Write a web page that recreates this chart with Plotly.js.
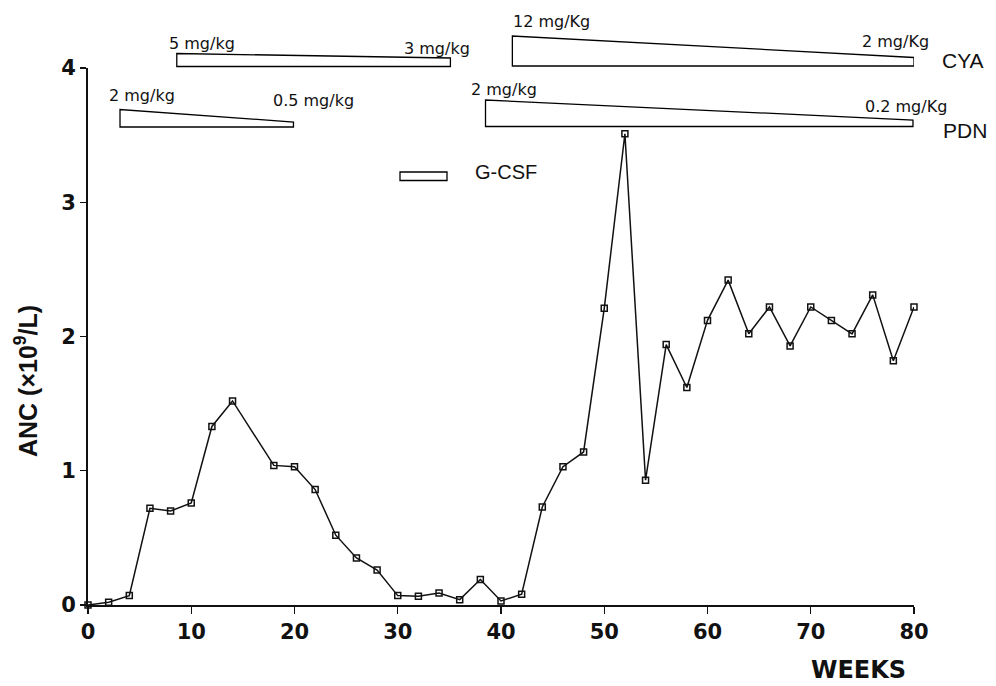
<!DOCTYPE html>
<html>
<head>
<meta charset="utf-8">
<script src="https://cdn.plot.ly/plotly-3.0.1.min.js"></script>
<style>html,body{margin:0;padding:0;background:#fff;}#chart{width:996px;height:686px;}</style>
</head>
<body>
<div id="chart"></div>
<script>
// ---- data ----
const weeks = [0, 2, 4, 6, 8, 10, 12, 14, 18, 20, 22, 24, 26, 28, 30, 32, 34, 36, 38, 40,
               42, 44, 46, 48, 50, 52, 54, 56, 58, 60, 62, 64, 66, 68, 70, 72, 74, 76, 78, 80];
const anc = [0, 0.02, 0.07, 0.72, 0.70, 0.76, 1.33, 1.52, 1.04, 1.03, 0.86, 0.52, 0.35, 0.26, 0.07, 0.065,
             0.09, 0.04, 0.19, 0.03, 0.08, 0.73, 1.03, 1.14, 2.21, 3.51, 0.93, 1.94, 1.62, 2.12, 2.42,
             2.02, 2.22, 1.93, 2.22, 2.12, 2.02, 2.31, 1.82, 2.22];
const xTicks = [0, 10, 20, 30, 40, 50, 60, 70, 80];
const yTicks = [0, 1, 2, 3, 4];

// drug regimens (start week, end week, start dose label, end dose label)
const cyaStart = [8.6, 41.1];
const cyaEnd = [35.1, 80];
const cyaStartLabel = ['5 mg/kg', '12 mg/Kg'];
const cyaEndLabel = ['3 mg/kg', '2 mg/Kg'];
const pdnStart = [3.1, 38.5];
const pdnEnd = [19.9, 79.9];
const pdnStartLabel = ['2 mg/kg', '2 mg/kg'];
const pdnEndLabel = ['0.5 mg/kg', '0.2 mg/Kg'];

// ---- layout helpers (pixel -> paper) ----
const L = 88, R = 82, T = 68, B = 81, W = 996, H = 686;
const pw = W - L - R, ph = H - T - B;
const py = p => (H - B - p) / ph;
const px = p => (p - L) / pw;

function wedge(x0, x1, yTopL, yTopR, yBot) {
  return {
    type: 'path', xref: 'x', yref: 'paper',
    path: `M ${x0} ${py(yBot)} L ${x0} ${py(yTopL)} L ${x1} ${py(yTopR)} L ${x1} ${py(yBot)} Z`,
    line: {color: '#000', width: 1.3}, fillcolor: 'rgba(255,255,255,0)'
  };
}

const shapes = [
  wedge(cyaStart[0], cyaEnd[0], 53.5, 58, 66.5),
  wedge(cyaStart[1], cyaEnd[1], 36, 57.5, 66),
  wedge(pdnStart[0], pdnEnd[0], 109.5, 122, 127),
  wedge(pdnStart[1], pdnEnd[1], 100, 120, 126.5),
  {type: 'rect', xref: 'paper', yref: 'paper', x0: px(400), x1: px(447), y0: py(180.5), y1: py(172),
   line: {color: '#000', width: 1.3}, fillcolor: 'rgba(255,255,255,0)'}
];

const labFont = {family: 'DejaVu Sans, Verdana, sans-serif', size: 16, color: '#111'};
const bigFont = {family: 'Liberation Sans, Arial, sans-serif', size: 21, color: '#111'};
function txt(text, x, y, font, anchor) {
  return {text: text, xref: 'paper', yref: 'paper', x: px(x), y: py(y), showarrow: false,
          xanchor: anchor || 'left', yanchor: 'middle', font: font, borderpad: 0};
}

const annotations = [
  txt(cyaStartLabel[0], 168, 43, labFont),
  txt(cyaEndLabel[0], 403, 48, labFont),
  txt(cyaStartLabel[1], 512, 22, labFont),
  txt(cyaEndLabel[1], 861, 42, labFont),
  txt(pdnStartLabel[0], 108, 95, labFont),
  txt(pdnEndLabel[0], 272, 100, labFont),
  txt(pdnStartLabel[1], 470, 89, labFont),
  txt(pdnEndLabel[1], 864, 106, labFont),
  txt('CYA', 941, 61, bigFont),
  txt('PDN', 942, 130, bigFont),
  txt('G-CSF', 474, 172, {family: 'Liberation Sans, Arial, sans-serif', size: 20, color: '#111'}),
  {text: 'ANC (×10<sup>9</sup>/L)', xref: 'paper', yref: 'paper', x: px(26), y: py(381), textangle: -90,
   showarrow: false, xanchor: 'center', yanchor: 'middle', borderpad: 0,
   font: {family: 'Liberation Sans, Arial, sans-serif', size: 25, weight: 'bold', color: '#111'}},
  {text: 'WEEKS', xref: 'paper', yref: 'paper', x: px(858), y: py(685), showarrow: false,
   xanchor: 'center', yanchor: 'bottom', borderpad: 0,
   font: {family: 'DejaVu Sans, Verdana, sans-serif', size: 24, weight: 'bold', color: '#111'}}
];

const trace = {
  x: weeks, y: anc, type: 'scatter', mode: 'lines+markers', cliponaxis: false,
  line: {color: '#111', width: 1.5},
  marker: {symbol: 'square-open', size: 6, color: '#111', line: {width: 1.5, color: '#111'}},
  showlegend: false, hoverinfo: 'x+y'
};

const tickFont = {family: 'DejaVu Sans, Verdana, sans-serif', size: 21, weight: 'bold', color: '#111'};
const layout = {
  width: W, height: H,
  margin: {l: L, r: R, t: T, b: B, pad: 0},
  paper_bgcolor: '#fff', plot_bgcolor: '#fff',
  showlegend: false,
  xaxis: {range: [0, 80], tickvals: xTicks, ticktext: xTicks.map(String), showgrid: false, zeroline: false,
          showline: true, linecolor: '#111', linewidth: 1.8, ticks: 'outside', ticklen: 7, tickwidth: 1.3,
          tickcolor: '#111', tickfont: tickFont, fixedrange: true},
  yaxis: {range: [0, 4], tickvals: yTicks, ticktext: yTicks.map(String), showgrid: false, zeroline: false,
          showline: true, linecolor: '#111', linewidth: 2, ticks: 'outside', ticklen: 6, tickwidth: 1.3,
          tickcolor: '#111', tickfont: tickFont, fixedrange: true},
  shapes: shapes,
  annotations: annotations
};

Plotly.newPlot('chart', [trace], layout, {staticPlot: true});
</script>
</body>
</html>
